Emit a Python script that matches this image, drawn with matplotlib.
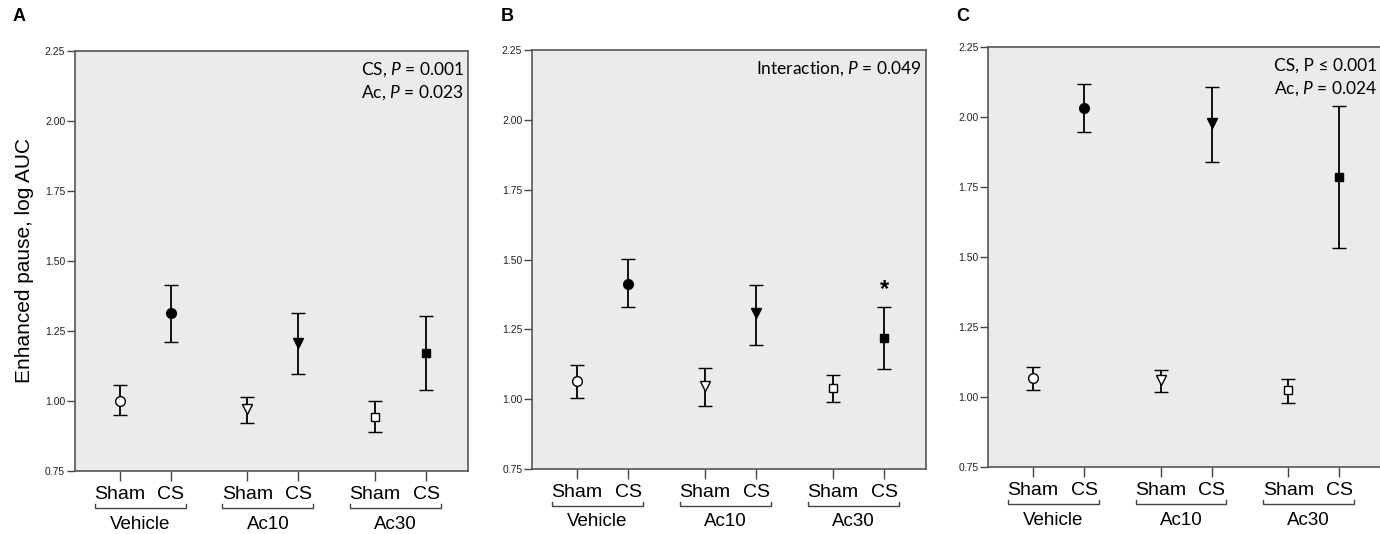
import matplotlib.pyplot as plt
from matplotlib import transforms

plt.rcParams["font.family"] = ["Liberation Sans", "DejaVu Sans"]
plt.rcParams["mathtext.fontset"] = "custom"
plt.rcParams["mathtext.it"] = "Lato:italic"
plt.rcParams["mathtext.rm"] = "Lato"

# x positions of the six groups (Sham/CS pairs per treatment)
positions = [0, 1, 2.5, 3.5, 5, 6]
tick_labels = ["Sham", "CS", "Sham", "CS", "Sham", "CS"]
treatments = ["Vehicle", "Ac10", "Ac30"]
markers = ["o", "o", "v", "v", "s", "s"]
filled = [False, True, False, True, False, True]

# panel A
mean_a = [1.00, 1.313, 0.97, 1.206, 0.944, 1.173]
low_a = [0.950, 1.212, 0.923, 1.096, 0.888, 1.039]
high_a = [1.057, 1.414, 1.015, 1.313, 1.000, 1.304]

# panel B
mean_b = [1.064, 1.413, 1.046, 1.308, 1.040, 1.219]
low_b = [1.004, 1.330, 0.974, 1.195, 0.990, 1.108]
high_b = [1.123, 1.501, 1.111, 1.409, 1.087, 1.330]

# panel C
mean_c = [1.068, 2.032, 1.060, 1.978, 1.024, 1.784]
low_c = [1.024, 1.946, 1.017, 1.841, 0.980, 1.531]
high_c = [1.108, 2.118, 1.096, 2.107, 1.066, 2.041]

panels = [
    ("A", mean_a, low_a, high_a, ["CS, $P$ = 0.001", "Ac, $P$ = 0.023"],
     [0.0543, 0.118, 0.2848, 0.7865]),
    ("B", mean_b, low_b, high_b, ["Interaction, $P$ = 0.049"],
     [0.3855, 0.1217, 0.2855, 0.7846]),
    ("C", mean_c, low_c, high_c, ["CS, P \u2264 0.001", "Ac, $P$ = 0.024"],
     [0.716, 0.1255, 0.2848, 0.7865]),
]

fig = plt.figure(figsize=(13.8, 5.34), dpi=100)

for i, (letter, means, lows, highs, notes, rect) in enumerate(panels):
    ax = fig.add_axes(rect)
    ax.set_facecolor("#ebebeb")

    for x, m, lo, hi, mk, f in zip(positions, means, lows, highs, markers, filled):
        ax.errorbar(
            x, m,
            yerr=[[m - lo], [hi - m]],
            fmt=mk,
            color="black",
            ecolor="black",
            elinewidth=1.3,
            capsize=5,
            capthick=1.3,
            markersize=7 if mk != "s" else 6,
            markerfacecolor="black" if f else "white",
            markeredgecolor="black",
            markeredgewidth=1.0,
        )

    ax.set_xlim(-0.88, 6.82)
    ax.set_ylim(0.75, 2.25)
    ax.set_yticks([0.75, 1.00, 1.25, 1.50, 1.75, 2.00, 2.25])
    ax.set_yticklabels(["0.75", "1.00", "1.25", "1.50", "1.75", "2.00", "2.25"])
    ax.set_xticks(positions)
    ax.set_xticklabels(tick_labels, fontsize=14)
    ax.tick_params(axis="y", labelsize=7.5, length=6, width=1, color="#444444",
                   pad=1, labelcolor="#222222")
    ax.tick_params(axis="x", length=7, width=1, color="#444444", pad=4)

    for spine in ax.spines.values():
        spine.set_color("#555555")
        spine.set_linewidth(1.2)

    # group brackets under the tick labels
    trans = transforms.blended_transform_factory(ax.transData, ax.transAxes)
    for g, name in enumerate(treatments):
        center = (positions[2 * g] + positions[2 * g + 1]) / 2 - 0.1
        x0, x1 = center - 0.89, center + 0.89
        ax.plot([x0, x0, x1, x1], [-0.078, -0.089, -0.089, -0.078],
                transform=trans, color="#444444", lw=1, clip_on=False)
        ax.text(center, -0.137, name, transform=trans, ha="center",
                va="baseline", fontsize=13.5)

    # statistics note
    ys = [0.955, 0.902]
    for note, y in zip(notes, ys):
        ax.text(0.99, y, note, transform=ax.transAxes, ha="right",
                va="center", fontsize=12.5, family="Lato")

    fig.text(rect[0] - 0.045 if i == 0 else rect[0] - 0.023, 0.97, letter,
             fontsize=13, fontweight="bold", ha="left", va="center")

    if i == 0:
        ax.set_ylabel("Enhanced pause, log AUC", fontsize=15, labelpad=8)

# significance mark in panel B
ax_b = fig.axes[1]
ax_b.text(positions[5], 1.392, "*", ha="center", va="center",
          fontsize=17, fontweight="bold")

fig.savefig("out.png", dpi=100)
